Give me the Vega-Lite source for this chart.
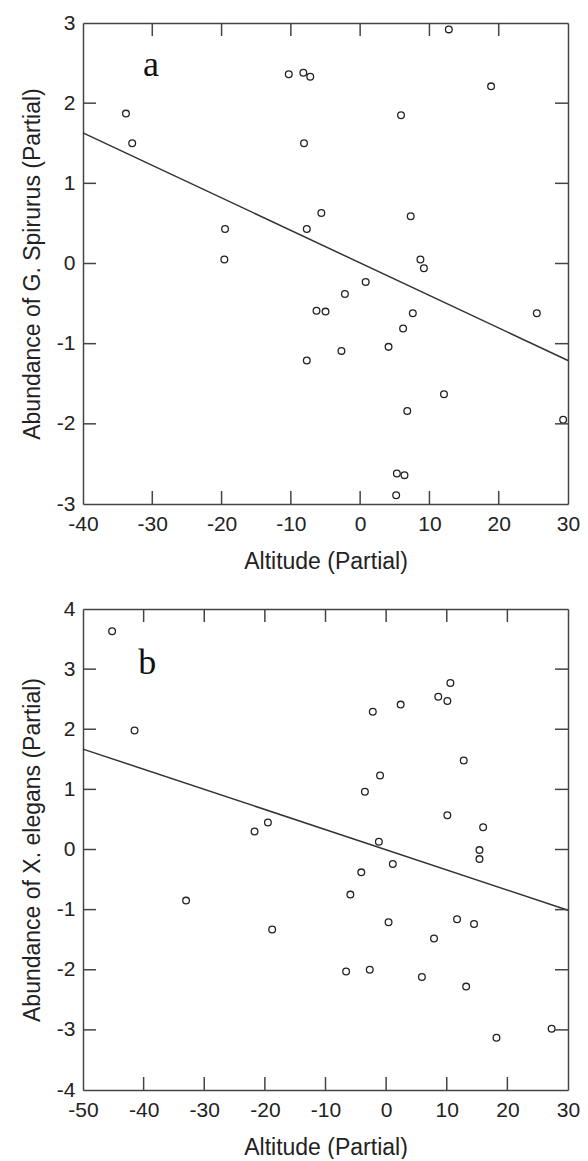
{
  "$schema": "https://vega.github.io/schema/vega-lite/v6.json",
  "padding": {"left": 21, "top": 12, "right": 8, "bottom": 0},
  "background": "white",
  "spacing": 25,
  "config": {
    "locale": {"number": {"decimal": ".", "thousands": ",", "grouping": [3], "currency": ["$", ""], "minus": "-"}},
    "view": {"stroke": null},
    "axis": {
      "grid": false, "domainColor": "#444", "domainWidth": 1.5, "ticks": false,
      "labelFont": "Liberation Sans", "labelFontSize": 21, "labelColor": "#222", "labelFlush": false, "labelOverlap": false,
      "titleFont": "Liberation Sans", "titleFontSize": 23, "titleFontWeight": "normal", "titleColor": "#222"
    }
  },
  "datasets": {
    "a_pts": [
      {"alt": -33.8, "abund": 1.87}, {"alt": -32.9, "abund": 1.50}, {"alt": -19.5, "abund": 0.43}, {"alt": -19.6, "abund": 0.05},
      {"alt": -10.3, "abund": 2.36}, {"alt": -8.2, "abund": 2.38}, {"alt": -7.2, "abund": 2.33}, {"alt": 12.8, "abund": 2.92},
      {"alt": 18.9, "abund": 2.21}, {"alt": 5.9, "abund": 1.85}, {"alt": -8.1, "abund": 1.50}, {"alt": -5.6, "abund": 0.63},
      {"alt": 7.3, "abund": 0.59}, {"alt": -7.7, "abund": 0.43}, {"alt": 8.7, "abund": 0.05}, {"alt": 9.2, "abund": -0.06},
      {"alt": 0.8, "abund": -0.23}, {"alt": -2.2, "abund": -0.38}, {"alt": -6.3, "abund": -0.59}, {"alt": -5.0, "abund": -0.60},
      {"alt": 7.6, "abund": -0.62}, {"alt": 6.2, "abund": -0.81}, {"alt": 25.5, "abund": -0.62}, {"alt": -2.7, "abund": -1.09},
      {"alt": 4.1, "abund": -1.04}, {"alt": -7.7, "abund": -1.21}, {"alt": 12.1, "abund": -1.63}, {"alt": 6.8, "abund": -1.84},
      {"alt": 29.3, "abund": -1.95}, {"alt": 5.3, "abund": -2.62}, {"alt": 6.4, "abund": -2.64}, {"alt": 5.2, "abund": -2.89}
    ],
    "a_line": [{"alt": -40, "abund": 1.63}, {"alt": 30, "abund": -1.21}],
    "a_label": [{"alt": -30.2, "abund": 2.34, "label": "a"}],
    "a_xt": [{"t": -30}, {"t": -20}, {"t": -10}, {"t": 0}, {"t": 10}, {"t": 20}],
    "a_yt": [{"t": -2}, {"t": -1}, {"t": 0}, {"t": 1}, {"t": 2}],
    "b_pts": [
      {"alt": -45.2, "abund": 3.63}, {"alt": -41.5, "abund": 1.98}, {"alt": -21.7, "abund": 0.30}, {"alt": -19.5, "abund": 0.45},
      {"alt": -33.0, "abund": -0.85}, {"alt": -18.8, "abund": -1.33}, {"alt": 10.6, "abund": 2.77}, {"alt": 8.6, "abund": 2.54},
      {"alt": 10.1, "abund": 2.47}, {"alt": 2.4, "abund": 2.41}, {"alt": -2.2, "abund": 2.29}, {"alt": 12.8, "abund": 1.48},
      {"alt": -1.0, "abund": 1.23}, {"alt": -3.5, "abund": 0.96}, {"alt": 10.1, "abund": 0.57}, {"alt": 16.0, "abund": 0.37},
      {"alt": -1.2, "abund": 0.13}, {"alt": 15.4, "abund": -0.01}, {"alt": 15.4, "abund": -0.16}, {"alt": 1.1, "abund": -0.24},
      {"alt": -4.1, "abund": -0.38}, {"alt": -5.9, "abund": -0.75}, {"alt": 0.4, "abund": -1.21}, {"alt": 11.7, "abund": -1.16},
      {"alt": 14.5, "abund": -1.24}, {"alt": 7.9, "abund": -1.48}, {"alt": -6.6, "abund": -2.03}, {"alt": -2.7, "abund": -2.00},
      {"alt": 5.9, "abund": -2.12}, {"alt": 13.2, "abund": -2.28}, {"alt": 18.2, "abund": -3.13}, {"alt": 27.3, "abund": -2.98}
    ],
    "b_line": [{"alt": -50, "abund": 1.67}, {"alt": 30, "abund": -1.01}],
    "b_label": [{"alt": -39.4, "abund": 2.92, "label": "b"}],
    "b_xt": [{"t": -40}, {"t": -30}, {"t": -20}, {"t": -10}, {"t": 0}, {"t": 10}, {"t": 20}],
    "b_yt": [{"t": -3}, {"t": -2}, {"t": -1}, {"t": 0}, {"t": 1}, {"t": 2}, {"t": 3}]
  },
  "vconcat": [
    {
      "width": 485, "height": 481,
      "resolve": {"axis": {"x": "independent", "y": "independent"}},
      "layer": [
        {
          "data": {"name": "a_pts"},
          "mark": {"type": "point", "shape": "circle", "filled": false, "stroke": "#222", "strokeWidth": 1.3, "size": 45, "opacity": 1},
          "encoding": {
            "x": {"field": "alt", "type": "quantitative", "scale": {"domain": [-40, 30], "nice": false, "zero": false},
                  "axis": {"orient": "bottom", "values": [-40, -30, -20, -10, 0, 10, 20, 30], "title": "Altitude (Partial)", "labelPadding": 9, "titlePadding": 16}},
            "y": {"field": "abund", "type": "quantitative", "scale": {"domain": [-3, 3], "nice": false, "zero": false},
                  "axis": {"orient": "left", "values": [-3, -2, -1, 0, 1, 2, 3], "title": "Abundance of G. Spirurus (Partial)", "labelPadding": 8, "titlePadding": 12}}
          }
        },
        {
          "data": {"name": "a_line"},
          "mark": {"type": "line", "color": "#333", "strokeWidth": 1.5},
          "encoding": {
            "x": {"field": "alt", "type": "quantitative", "axis": {"orient": "top", "labels": false, "title": null}},
            "y": {"field": "abund", "type": "quantitative", "axis": {"orient": "right", "labels": false, "title": null}}
          }
        },
        {
          "data": {"name": "a_xt"},
          "mark": {"type": "rule", "color": "#444", "strokeWidth": 1.5},
          "encoding": {
            "x": {"field": "t", "type": "quantitative", "axis": null},
            "y": {"datum": -3, "type": "quantitative", "axis": null},
            "y2": {"datum": -2.838}
          }
        },
        {
          "data": {"name": "a_xt"},
          "mark": {"type": "rule", "color": "#444", "strokeWidth": 1.5},
          "encoding": {
            "x": {"field": "t", "type": "quantitative", "axis": null},
            "y": {"datum": 3, "type": "quantitative", "axis": null},
            "y2": {"datum": 2.838}
          }
        },
        {
          "data": {"name": "a_yt"},
          "mark": {"type": "rule", "color": "#444", "strokeWidth": 1.5},
          "encoding": {
            "y": {"field": "t", "type": "quantitative", "axis": null},
            "x": {"datum": -40, "type": "quantitative", "axis": null},
            "x2": {"datum": -38.12}
          }
        },
        {
          "data": {"name": "a_yt"},
          "mark": {"type": "rule", "color": "#444", "strokeWidth": 1.5},
          "encoding": {
            "y": {"field": "t", "type": "quantitative", "axis": null},
            "x": {"datum": 30, "type": "quantitative", "axis": null},
            "x2": {"datum": 28.12}
          }
        },
        {
          "data": {"name": "a_label"},
          "mark": {"type": "text", "font": "Liberation Serif", "fontSize": 36, "color": "#111", "align": "center", "baseline": "alphabetic"},
          "encoding": {
            "x": {"field": "alt", "type": "quantitative", "axis": null},
            "y": {"field": "abund", "type": "quantitative", "axis": null},
            "text": {"field": "label"}
          }
        }
      ]
    },
    {
      "width": 485, "height": 481,
      "resolve": {"axis": {"x": "independent", "y": "independent"}},
      "layer": [
        {
          "data": {"name": "b_pts"},
          "mark": {"type": "point", "shape": "circle", "filled": false, "stroke": "#222", "strokeWidth": 1.3, "size": 45, "opacity": 1},
          "encoding": {
            "x": {"field": "alt", "type": "quantitative", "scale": {"domain": [-50, 30], "nice": false, "zero": false},
                  "axis": {"orient": "bottom", "values": [-50, -40, -30, -20, -10, 0, 10, 20, 30], "title": "Altitude (Partial)", "labelPadding": 9, "titlePadding": 16}},
            "y": {"field": "abund", "type": "quantitative", "scale": {"domain": [-4, 4], "nice": false, "zero": false},
                  "axis": {"orient": "left", "values": [-4, -3, -2, -1, 0, 1, 2, 3, 4], "title": "Abundance of X. elegans (Partial)", "labelPadding": 8, "titlePadding": 12}}
          }
        },
        {
          "data": {"name": "b_line"},
          "mark": {"type": "line", "color": "#333", "strokeWidth": 1.5},
          "encoding": {
            "x": {"field": "alt", "type": "quantitative", "axis": {"orient": "top", "labels": false, "title": null}},
            "y": {"field": "abund", "type": "quantitative", "axis": {"orient": "right", "labels": false, "title": null}}
          }
        },
        {
          "data": {"name": "b_xt"},
          "mark": {"type": "rule", "color": "#444", "strokeWidth": 1.5},
          "encoding": {
            "x": {"field": "t", "type": "quantitative", "axis": null},
            "y": {"datum": -4, "type": "quantitative", "axis": null},
            "y2": {"datum": -3.784}
          }
        },
        {
          "data": {"name": "b_xt"},
          "mark": {"type": "rule", "color": "#444", "strokeWidth": 1.5},
          "encoding": {
            "x": {"field": "t", "type": "quantitative", "axis": null},
            "y": {"datum": 4, "type": "quantitative", "axis": null},
            "y2": {"datum": 3.784}
          }
        },
        {
          "data": {"name": "b_yt"},
          "mark": {"type": "rule", "color": "#444", "strokeWidth": 1.5},
          "encoding": {
            "y": {"field": "t", "type": "quantitative", "axis": null},
            "x": {"datum": -50, "type": "quantitative", "axis": null},
            "x2": {"datum": -47.85}
          }
        },
        {
          "data": {"name": "b_yt"},
          "mark": {"type": "rule", "color": "#444", "strokeWidth": 1.5},
          "encoding": {
            "y": {"field": "t", "type": "quantitative", "axis": null},
            "x": {"datum": 30, "type": "quantitative", "axis": null},
            "x2": {"datum": 27.855}
          }
        },
        {
          "data": {"name": "b_label"},
          "mark": {"type": "text", "font": "Liberation Serif", "fontSize": 36, "color": "#111", "align": "center", "baseline": "alphabetic"},
          "encoding": {
            "x": {"field": "alt", "type": "quantitative", "axis": null},
            "y": {"field": "abund", "type": "quantitative", "axis": null},
            "text": {"field": "label"}
          }
        }
      ]
    }
  ]
}
